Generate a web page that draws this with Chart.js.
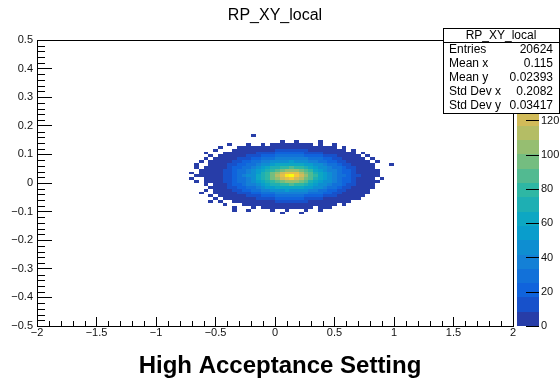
<!DOCTYPE html>
<html>
<head>
<meta charset="utf-8">
<script src="https://cdn.jsdelivr.net/npm/chart.js@4.4.1/dist/chart.umd.min.js"></script>
<style>
  html, body { margin: 0; padding: 0; background: #fff; }
</style>
</head>
<body>
<canvas id="myChart" width="560" height="378"></canvas>
<script>
// Testi del grafico
const chartTitle = "RP_XY_local";
const caption = "High Acceptance Setting";

// Intervalli degli assi e binning dell'istogramma
const xRange = [-2, 2];
const yRange = [-0.5, 0.5];
const binW = 0.04;
const binH = 0.01;
const colStart = -0.72; // bordo sinistro della prima colonna
const rowStart = 0.17;  // bordo superiore della prima riga

// Conteggi per cella, righe dall'alto verso il basso
const counts = [
  [0,0,0,0,0,0,0,0,0,0, 0,0,0,1,0,0,0,0,0,0, 0,0,0,0,0,0,0,0,0,0, 0,0,0,0,0,0,0,0,0,0, 0,0,0],
  [0,0,0,0,0,0,0,0,0,0, 0,0,0,0,0,0,0,0,0,0, 0,0,0,0,0,0,0,0,0,0, 0,0,0,0,0,0,0,0,0,0, 0,0,0],
  [0,0,0,0,0,0,0,0,0,0, 0,0,0,0,0,0,0,0,0,1, 0,0,1,0,0,0,0,1,0,0, 0,0,0,0,0,0,0,0,0,0, 0,0,0],
  [0,0,0,0,0,0,0,0,1,0, 0,0,1,0,0,1,0,1,1,2, 1,2,1,1,1,1,0,1,0,0, 1,0,0,0,0,0,0,0,0,0, 0,0,0],
  [0,0,0,0,0,0,1,0,0,0, 1,1,1,1,2,2,3,3,4,5, 4,5,4,5,3,3,2,2,1,1, 1,0,1,0,0,0,0,0,0,0, 0,0,0],
  [0,0,0,0,0,1,0,0,0,1, 1,2,2,3,5,6,7,8,9,10, 11,10,10,9,9,7,6,5,4,3, 2,1,1,0,1,0,0,0,0,0, 0,0,0],
  [0,0,0,1,0,0,0,1,1,2, 2,4,5,7,10,12,14,15,17,18, 18,19,18,17,16,14,13,11,8,6, 5,3,2,1,1,0,1,0,0,0, 0,0,0],
  [0,0,0,0,1,0,1,1,2,3, 5,7,11,13,16,19,21,23,25,26, 27,28,27,26,24,22,20,18,15,12, 9,6,4,2,2,1,0,1,0,0, 0,0,0],
  [0,0,0,1,0,1,1,2,4,6, 9,13,16,20,23,27,30,32,35,36, 37,38,37,36,34,31,28,25,22,18, 14,11,7,5,3,2,1,0,1,0, 0,0,0],
  [0,0,1,0,1,1,2,4,6,10, 14,18,22,26,31,35,39,43,46,49, 50,51,50,48,45,41,37,33,29,24, 20,16,12,8,5,3,2,1,0,1, 0,0,0],
  [0,1,0,0,1,2,3,6,9,14, 18,23,28,33,39,44,50,55,60,63, 65,66,64,61,58,53,47,42,36,31, 26,21,16,11,7,4,2,1,1,0, 0,0,1],
  [0,1,0,1,1,2,5,8,12,17, 22,28,33,40,46,54,61,68,75,80, 83,84,82,78,72,64,57,50,43,36, 30,25,20,14,10,6,3,2,1,0, 0,0,0],
  [0,0,1,1,2,3,6,10,14,20, 25,31,38,45,54,62,72,81,91,99, 104,106,102,95,86,76,66,58,49,41, 34,28,22,17,12,7,4,2,1,1, 0,0,0],
  [1,0,1,1,2,4,6,11,16,21, 27,33,41,49,58,68,80,92,104,119, 130,133,126,113,98,86,74,63,54,45, 37,30,24,19,13,8,5,2,1,1, 0,0,0],
  [0,1,1,1,2,4,7,11,16,22, 28,34,42,50,60,71,83,96,112,130, 151,167,140,121,103,89,77,64,55,46, 38,31,25,19,14,9,5,3,1,1, 0,0,0],
  [1,0,0,1,2,4,6,11,16,21, 27,33,40,49,59,68,79,92,106,119, 129,134,124,113,99,86,75,63,52,45, 38,30,24,19,13,8,5,2,1,0, 1,0,0],
  [0,1,0,1,2,3,6,10,14,20, 25,32,38,44,54,63,72,80,91,100, 104,105,102,96,86,75,66,57,49,42, 34,28,22,17,12,7,4,2,1,1, 0,0,0],
  [0,0,0,1,0,2,5,8,12,17, 22,27,34,40,47,54,60,68,75,80, 82,84,83,78,71,64,57,50,43,36, 30,25,20,14,10,6,3,2,1,0, 0,0,0],
  [0,0,0,0,1,2,3,6,9,14, 18,23,29,33,38,44,51,55,59,63, 66,65,64,62,57,53,48,42,35,31, 26,21,16,11,7,4,2,1,1,0, 0,0,0],
  [0,0,0,1,0,1,2,4,6,10, 14,18,22,27,31,35,39,43,46,49, 51,50,50,48,44,41,37,33,29,24, 20,16,12,8,5,3,2,1,0,0, 0,0,0],
  [0,0,1,0,0,1,1,2,4,6, 9,13,16,20,23,27,30,32,35,36, 37,37,37,36,34,31,28,25,22,18, 14,11,7,5,3,2,1,1,0,0, 0,0,0],
  [0,0,0,0,1,0,1,1,2,3, 5,7,11,13,16,19,21,23,25,26, 27,27,27,26,24,22,20,18,15,12, 9,6,4,2,2,1,1,0,0,0, 0,0,0],
  [0,0,0,0,0,1,0,1,1,2, 2,4,5,7,10,12,14,15,17,18, 18,18,18,17,16,14,13,11,8,6, 5,3,2,1,1,1,0,0,0,0, 0,0,0],
  [0,0,0,0,1,0,1,0,0,1, 1,2,2,3,5,6,7,8,9,10, 10,10,10,10,9,7,6,5,4,3, 2,1,1,1,0,0,0,0,0,0, 0,0,0],
  [0,0,0,0,0,0,0,1,0,0, 0,1,1,1,2,2,3,3,4,4, 5,5,4,4,4,3,2,2,2,1, 1,0,1,0,0,0,0,0,0,0, 0,0,0],
  [0,0,0,0,0,0,0,0,0,1, 0,0,0,1,0,1,1,1,2,1, 2,2,1,2,1,1,0,1,1,1, 0,0,0,0,0,0,0,0,0,0, 0,0,0],
  [0,0,0,0,0,0,0,0,0,1, 0,0,1,0,0,0,0,1,0,0, 1,0,0,0,1,0,0,1,0,0, 0,0,0,0,0,0,0,0,0,0, 0,0,0],
  [0,0,0,0,0,0,0,0,0,0, 0,0,0,0,0,0,0,0,0,1, 0,0,0,1,0,0,0,0,0,0, 0,0,0,0,0,0,0,0,0,0, 0,0,0]
];

// Riquadro statistiche
const statsNames = ["Entries", "Mean x", "Mean y", "Std Dev x", "Std Dev y"];
const statsValues = ["20624", "0.115", "0.02393", "0.2082", "0.03417"];

// Palette kBird di ROOT
const birdStops = [0, 0.125, 0.25, 0.375, 0.5, 0.625, 0.75, 0.875, 1];
const birdR = [0.2082, 0.0592, 0.0780, 0.0232, 0.1802, 0.5301, 0.8186, 0.9956, 0.9764];
const birdG = [0.1664, 0.3599, 0.5041, 0.6419, 0.7178, 0.7492, 0.7328, 0.7862, 0.9832];
const birdB = [0.5293, 0.8684, 0.8385, 0.7914, 0.6425, 0.4662, 0.3499, 0.1968, 0.0539];
const nLevels = 20;

const FONT = "'Liberation Sans', Arial, Helvetica, sans-serif";

// Costruzione delle celle non vuote
const cells = [];
for (let r = 0; r < counts.length; r++) {
  for (let c = 0; c < counts[r].length; c++) {
    const v = counts[r][c];
    if (v > 0) {
      cells.push({ x: colStart + binW * (c + 0.5), y: rowStart - binH * (r + 0.5), v: v });
    }
  }
}
const zMax = Math.max(...cells.map(p => p.v));

// Funzione per il colore della palette a un valore t in [0,1]
function birdColor(t) {
  let i = 0;
  while (i < birdStops.length - 2 && t > birdStops[i + 1]) i++;
  const f = (t - birdStops[i]) / (birdStops[i + 1] - birdStops[i]);
  const r = birdR[i] + f * (birdR[i + 1] - birdR[i]);
  const g = birdG[i] + f * (birdG[i + 1] - birdG[i]);
  const b = birdB[i] + f * (birdB[i + 1] - birdB[i]);
  return "rgb(" + Math.round(r * 255) + "," + Math.round(g * 255) + "," + Math.round(b * 255) + ")";
}

function levelColor(level) {
  const k = Math.min(254, Math.floor((level + 0.99) * 255 / nLevels));
  return birdColor(k / 254);
}

function levelOf(v) {
  return Math.min(nLevels - 1, Math.floor(0.01 + v * nLevels / zMax));
}

// Formato delle etichette in stile ROOT
function fmtTick(v) {
  const s = String(Math.round(v * 10) / 10);
  return s.replace("-", "\u2212");
}

// Plugin che disegna celle, cornice, tacche minori, palette e statistiche
const histPlugin = {
  id: "hist2d",
  beforeDatasetsDraw(chart) {
    const ctx = chart.ctx;
    const xs = chart.scales.x, ys = chart.scales.y;
    ctx.save();
    cells.forEach(d => {
      const x0 = Math.round(xs.getPixelForValue(d.x - binW / 2));
      const x1 = Math.round(xs.getPixelForValue(d.x + binW / 2));
      const y0 = Math.round(ys.getPixelForValue(d.y + binH / 2));
      const y1 = Math.round(ys.getPixelForValue(d.y - binH / 2));
      ctx.fillStyle = levelColor(levelOf(d.v));
      ctx.fillRect(x0, y0, x1 - x0, y1 - y0);
    });
    ctx.restore();
  },
  afterDraw(chart) {
    const ctx = chart.ctx;
    const area = chart.chartArea;
    const xs = chart.scales.x, ys = chart.scales.y, zs = chart.scales.z;
    ctx.save();
    ctx.strokeStyle = "#000";
    ctx.lineWidth = 1;

    // Cornice superiore e destra
    ctx.beginPath();
    ctx.moveTo(Math.round(area.left), Math.round(area.top) + 0.5);
    ctx.lineTo(Math.round(area.right) + 0.5, Math.round(area.top) + 0.5);
    ctx.lineTo(Math.round(area.right) + 0.5, Math.round(area.bottom));
    ctx.stroke();

    // Tacche minori
    ctx.beginPath();
    for (let k = -20; k <= 20; k++) {
      if (k % 5 === 0) continue;
      const px = Math.round(xs.getPixelForValue(k / 10)) + 0.5;
      ctx.moveTo(px, area.bottom);
      ctx.lineTo(px, area.bottom - 5);
    }
    for (let k = -25; k <= 25; k++) {
      if (k % 5 === 0) continue;
      const py = Math.round(ys.getPixelForValue(k * 0.02)) + 0.5;
      ctx.moveTo(area.left, py);
      ctx.lineTo(area.left + 8, py);
    }
    ctx.stroke();

    // Barra dei colori
    const bx0 = Math.round(area.right) + 4;
    const bx1 = Math.round(area.right) + 26;
    for (let i = 0; i < nLevels; i++) {
      const yb = Math.round(zs.getPixelForValue(i * zMax / nLevels));
      const yt = Math.round(zs.getPixelForValue((i + 1) * zMax / nLevels));
      ctx.fillStyle = levelColor(i);
      ctx.fillRect(bx0, yt, bx1 - bx0, yb - yt);
    }
    ctx.beginPath();
    zs.ticks.forEach(t => {
      if (t.value % 20 !== 0) return;
      const py = Math.round(zs.getPixelForValue(t.value)) + 0.5;
      ctx.moveTo(bx1 - 13, py);
      ctx.lineTo(bx1, py);
    });
    ctx.stroke();

    // Riquadro statistiche
    const sx0 = 443, sx1 = 559, sy0 = 28, sy1 = 113;
    ctx.fillStyle = "#fff";
    ctx.fillRect(sx0, sy0, sx1 - sx0, sy1 - sy0);
    ctx.strokeRect(sx0 + 0.5, sy0 + 0.5, sx1 - sx0, sy1 - sy0);
    ctx.beginPath();
    ctx.moveTo(sx0, 42.5);
    ctx.lineTo(sx1 + 1, 42.5);
    ctx.stroke();
    ctx.fillStyle = "#000";
    ctx.font = "12px " + FONT;
    ctx.textBaseline = "middle";
    ctx.textAlign = "center";
    ctx.fillText(chartTitle, (sx0 + sx1) / 2, 35.5);
    for (let i = 0; i < statsNames.length; i++) {
      const yy = 50 + 14 * i;
      ctx.textAlign = "left";
      ctx.fillText(statsNames[i], sx0 + 6, yy);
      ctx.textAlign = "right";
      ctx.fillText(statsValues[i], sx1 - 6, yy);
    }
    ctx.restore();
  }
};

Chart.defaults.font.family = FONT;
Chart.defaults.color = "#111";

const ctx = document.getElementById("myChart");
new Chart(ctx, {
  type: "scatter",
  data: {
    datasets: [{
      label: chartTitle,
      data: cells,
      pointRadius: 0,
      pointHoverRadius: 0
    }]
  },
  options: {
    responsive: false,
    animation: false,
    events: [],
    layout: { padding: 0 },
    plugins: {
      legend: { display: false },
      tooltip: { enabled: false },
      title: {
        display: true,
        text: chartTitle,
        fullSize: false,
        color: "#000",
        font: { size: 16, weight: "normal", lineHeight: 1.2 },
        padding: { top: 6.4, bottom: 14.4 }
      },
      subtitle: {
        display: true,
        position: "bottom",
        text: caption,
        color: "#000",
        font: { size: 24, weight: "bold", lineHeight: 1.0 },
        padding: { top: 8, bottom: 0 }
      }
    },
    scales: {
      x: {
        type: "linear",
        position: "bottom",
        min: xRange[0],
        max: xRange[1],
        afterFit: s => { s.height = 20; },
        ticks: {
          stepSize: 0.5,
          autoSkip: false,
          maxRotation: 0,
          padding: 9,
          font: { size: 11 },
          callback: v => fmtTick(v)
        },
        grid: { drawOnChartArea: false, drawTicks: true, tickLength: -9, tickColor: "#000", tickWidth: 1 },
        border: { display: true, color: "#000", width: 1 }
      },
      y: {
        type: "linear",
        position: "left",
        min: yRange[0],
        max: yRange[1],
        afterFit: s => { s.width = 37; },
        ticks: {
          stepSize: 0.1,
          autoSkip: false,
          padding: 19,
          font: { size: 11 },
          callback: v => fmtTick(v)
        },
        grid: { drawOnChartArea: false, drawTicks: true, tickLength: -15, tickColor: "#000", tickWidth: 1 },
        border: { display: true, color: "#000", width: 1 }
      },
      z: {
        type: "linear",
        position: "right",
        min: 0,
        max: zMax,
        afterFit: s => { s.width = 47; },
        ticks: {
          stepSize: 20,
          autoSkip: false,
          padding: 28,
          font: { size: 11 },
          callback: v => (v % 20 === 0 ? String(v) : "")
        },
        grid: { display: false, drawTicks: false },
        border: { display: false }
      }
    }
  },
  plugins: [histPlugin]
});
</script>
</body>
</html>
